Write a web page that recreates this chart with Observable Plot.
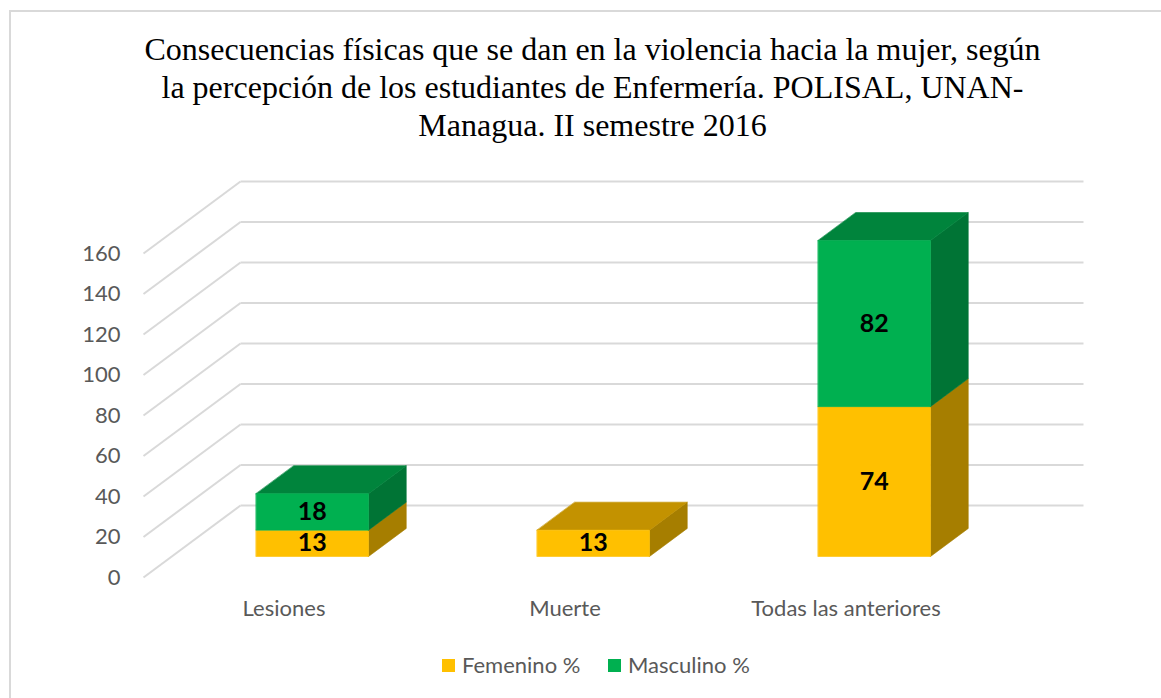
<!DOCTYPE html>
<html>
<head>
<meta charset="utf-8">
<script src="https://cdn.jsdelivr.net/npm/d3@7"></script>
<script src="https://cdn.jsdelivr.net/npm/@observablehq/plot@0.6"></script>
<style>
  html, body { margin: 0; padding: 0; background: #fff; }
  #wrap { position: relative; width: 1161px; height: 698px; overflow: hidden; }
  #border { position: absolute; left: 9px; top: 10px; width: 1200px; height: 720px; border: 2px solid #D9D9D9; box-sizing: border-box; }
  #title { position: absolute; left: 10px; width: 1165px; top: 30px; text-align: center;
    font-family: "Liberation Serif", "Times New Roman", serif; font-size: 32px; line-height: 38px; color: #000; }
  #chart { position: absolute; left: 0; top: 160px; }
  .leg { position: absolute; font-family: Lato, sans-serif; font-size: 22px; color: #595959; line-height: 24px; white-space: nowrap; }
  .sw { position: absolute; width: 13px; height: 13px; }
</style>
</head>
<body>
<div id="wrap">
  <div id="border"></div>
  <div id="title">Consecuencias físicas que se dan en la violencia hacia la mujer, según<br>la percepción de los estudiantes de Enfermería. POLISAL, UNAN-<br>Managua. II semestre 2016</div>
  <div id="chart"></div>
  <div id="legend"></div>
</div>
<script>
// ---- data ----
const categories = ["Lesiones", "Muerte", "Todas las anteriores"];
const femenino = [13, 13, 74];
const masculino = [18, 0, 82];
const yTicks = [0, 20, 40, 60, 80, 100, 120, 140, 160];
const seriesNames = ["Femenino %", "Masculino %"];

// ---- styling ----
const frontColors = ["#FFC000", "#00B050"];
const topColors = ["#C39200", "#00843C"];
const sideColors = ["#A67E00", "#007435"];
const gridColor = "#D9D9D9";

// oblique projection (depth offsets in scale units)
const DX = 97 / 281;     // x units for full depth
const DY = 72 / 2.025;   // value units for full depth
const D0 = 0.292, D1 = 0.681; // bar front/back depth
const HW = 0.2;          // bar half width (x units)

const faces = [];
const labels = [];
categories.forEach((c, i) => {
  const segs = [
    {s: 0, v0: 0, v1: femenino[i]},
    {s: 1, v0: femenino[i], v1: femenino[i] + masculino[i]}
  ].filter(g => g.v1 > g.v0);
  const xl = i + 0.5 - HW, xr = i + 0.5 + HW;
  const P = (x, v, d) => ({x: x + d * DX, y: v + d * DY});
  segs.forEach((g, k) => {
    const add = (id, color, pts) => pts.forEach(p => faces.push({id, color, x: p.x, y: p.y}));
    add(`side-${i}-${k}`, sideColors[g.s], [P(xr, g.v0, D0), P(xr, g.v0, D1), P(xr, g.v1, D1), P(xr, g.v1, D0)]);
    if (k === segs.length - 1)
      add(`top-${i}-${k}`, topColors[g.s], [P(xl, g.v1, D0), P(xr, g.v1, D0), P(xr, g.v1, D1), P(xl, g.v1, D1)]);
    add(`front-${i}-${k}`, frontColors[g.s], [P(xl, g.v0, D0), P(xr, g.v0, D0), P(xr, g.v1, D0), P(xl, g.v1, D0)]);
    labels.push({x: i + 0.5 + D0 * DX, y: (g.v0 + g.v1) / 2 + D0 * DY, text: String(g.v1 - g.v0)});
  });
});

const plot = Plot.plot({
  width: 1161,
  height: 470,
  marginLeft: 143,
  marginRight: 175,
  marginTop: 93,
  marginBottom: 53,
  x: {domain: [0, 3], axis: null},
  y: {domain: [0, 160], axis: null},
  color: {type: "identity"},
  style: {fontFamily: "Lato, sans-serif", background: "transparent", overflow: "visible"},
  marks: [
    // back wall gridlines
    Plot.link(yTicks, {x1: () => DX, x2: () => 3 + DX, y1: v => v + DY, y2: v => v + DY, stroke: gridColor, strokeWidth: 2}),
    // side-wall diagonals
    Plot.link(yTicks, {x1: () => 0, x2: () => DX, y1: v => v, y2: v => v + DY, stroke: gridColor, strokeWidth: 2}),
    // bars (3D faces)
    Plot.line(faces, {x: "x", y: "y", z: "id", fill: "color", stroke: "color", strokeWidth: 0.6, curve: "linear-closed"}),
    // y axis labels
    Plot.axisY({ticks: yTicks, label: null, tickSize: 0, tickPadding: 23, fontSize: 22, fill: "#595959", fontFamily: "Lato, sans-serif"}),
    // category labels
    Plot.text(categories, {x: (d, i) => i + 0.5, frameAnchor: "bottom", lineAnchor: "middle", dy: 31, text: d => d, fontSize: 22, fill: "#595959"}),
    // data labels
    Plot.text(labels, {x: "x", y: "y", text: "text", fontSize: 25, fontWeight: "bold", fill: "#000", lineAnchor: "middle"})
  ]
});
document.getElementById("chart").appendChild(plot);

// legend
const legend = document.getElementById("legend");
const legPos = [{sq: 442, tx: 462}, {sq: 608, tx: 628}];
seriesNames.forEach((name, k) => {
  const sw = document.createElement("div");
  sw.className = "sw";
  sw.style.left = legPos[k].sq + "px";
  sw.style.top = "659px";
  sw.style.background = frontColors[k];
  legend.appendChild(sw);
  const t = document.createElement("div");
  t.className = "leg";
  t.style.left = legPos[k].tx + "px";
  t.style.top = "653px";
  t.textContent = name;
  legend.appendChild(t);
});
</script>
</body>
</html>
